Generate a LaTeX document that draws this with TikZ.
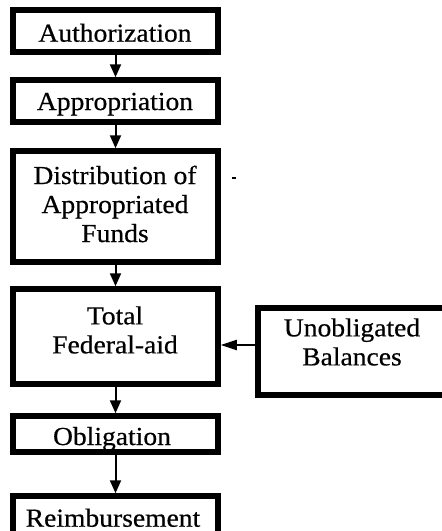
\documentclass[tikz,border=0pt]{standalone}
\usepackage{fontspec}
\setmainfont{Liberation Serif}[FakeStretch=1.06,FakeBold=0.5]
\usetikzlibrary{arrows.meta}
\begin{document}
\begin{tikzpicture}[x=1pt,y=-1pt,
  box/.style={draw=black, line width=5.5pt, inner sep=0pt, minimum width=205pt},
  boxtext/.style={font=\fontsize{26}{29}\selectfont, inner sep=0pt, align=center},
  flow/.style={line width=2pt, -{Triangle[length=13pt,width=11pt]}},
  feed/.style={line width=2pt, -{Triangle[length=16pt,width=10pt]}}]
  \useasboundingbox (0,0) rectangle (442,531);
  \clip (0,0) rectangle (442,531);

  % stage boxes down the left column
  \node[box, minimum height=42pt]  (auth)   at (115.5,31)    {};
  \node[box, minimum height=42pt]  (approp) at (115.5,101)   {};
  \node[box, minimum height=111pt] (dist)   at (115.5,206.5) {};
  \node[box, minimum height=95pt]  (total)  at (115.5,336.5) {};
  \node[box, minimum height=36pt]  (oblig)  at (115.5,434)   {};
  \node[box, minimum height=42pt]  (reimb)  at (115.5,517)   {};

  % side box feeding the total
  \node[box, minimum width=202pt, minimum height=87pt] (unob) at (359,351.5) {};

  % box texts
  \node[boxtext, anchor=base] (authT)   at (115,41.7)  {Authorization};
  \node[boxtext, anchor=base] (appropT) at (115,110)   {Appropriation};
  \node[boxtext]              (distT)   at (115,204)   {Distribution of\\Appropriated\\Funds};
  \node[boxtext]              (totalT)  at (115,330)   {Total\\Federal-aid};
  \node[boxtext, anchor=base] (obligT)  at (112,445)   {Obligation};
  \node[boxtext, anchor=base] (reimbT)  at (113,526.7) {Reimbursement};
  \node[boxtext]              (unobT)   at (352,342)   {Unobligated\\Balances};

  % flow between stages
  \draw[flow] (auth.south)   -- (approp.north);
  \draw[flow] (approp.south) -- (dist.north);
  \draw[flow] (dist.south)   -- (total.north);
  \draw[flow] (total.south)  -- (oblig.north);
  \draw[flow] (oblig.south)  -- (reimb.north);
  \draw[feed] (unob.west |- 0,345) -- (total.east |- 0,345);

  % small stray tick beside the distribution box
  \draw[line width=1.5pt] (232,178) -- (236,178);
\end{tikzpicture}
\end{document}
